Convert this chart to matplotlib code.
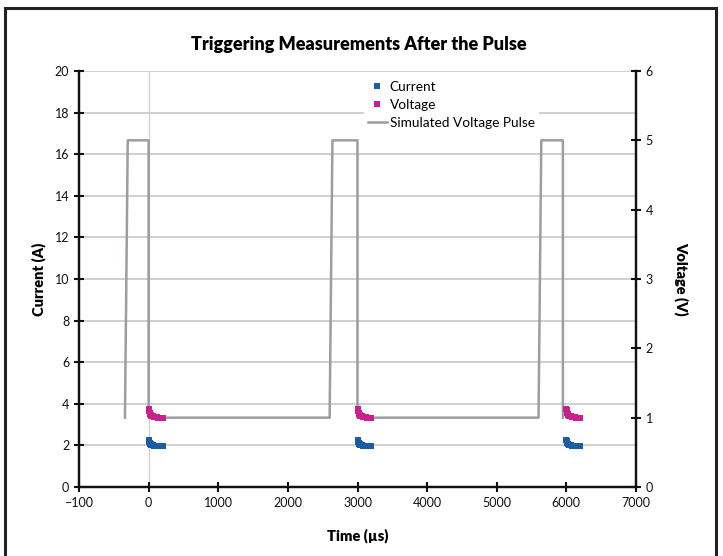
import numpy as np
import matplotlib
matplotlib.use("Agg")
import matplotlib.pyplot as plt
from matplotlib.patches import Rectangle
from matplotlib.lines import Line2D

plt.rcParams['font.family'] = ['Lato', 'DejaVu Sans']

# ---- data ----
burst_starts = [0, 3000, 6000]                       # us, where each measurement burst begins
burst_t = [0, 5, 10, 15, 20, 30, 40, 50, 60, 80, 100, 120, 140, 160, 180, 200]   # us after burst start
current_a = [2.25, 2.21, 2.17, 2.13, 2.09, 2.05, 2.03, 2.01, 2.00, 1.99, 1.98, 1.98, 1.97, 1.97, 1.97, 1.97]
voltage_v = [1.13, 1.11, 1.09, 1.07, 1.06, 1.04, 1.03, 1.025, 1.02, 1.015, 1.01, 1.005, 1.0, 1.0, 1.0, 1.0]

pulse_t = [-340, -300, 0, 0, 2600, 2640, 3000, 3000, 5600, 5640, 5950, 5950]
pulse_v = [1.0, 5.0, 5.0, 1.0, 1.0, 5.0, 5.0, 1.0, 1.0, 5.0, 5.0, 1.0]

x_ticks = [-1000, 0, 1000, 2000, 3000, 4000, 5000, 6000, 7000]
x_tick_labels = ['\u2212100', '0', '1000', '2000', '3000', '4000', '5000', '6000', '7000']

blue = '#1a5ca8'
magenta = '#cc1f8e'
grey = '#9a9ea3'

fig = plt.figure(figsize=(7.23, 5.56), dpi=100)
ax = fig.add_axes([79/723, 1-487/556, 557/723, 416/556])
ax2 = ax.twinx()

cur_t = []
cur_y = []
vol_t = []
vol_y = []
for s in burst_starts:
    for i in range(len(burst_t)):
        cur_t.append(s + burst_t[i])
        cur_y.append(current_a[i])
        vol_t.append(s + burst_t[i])
        vol_y.append(voltage_v[i])

ax.set_xlim(-1000, 7000)
ax.set_ylim(0, 20)
ax2.set_ylim(0, 6)

ax.set_yticks(range(0, 21, 2))
ax2.set_yticks(range(0, 7))
ax.set_xticks(x_ticks)
ax.set_xticklabels(x_tick_labels)

ax.grid(axis='y', color='#cbcbcb', lw=1.3)
ax.axvline(0, color='#cfcfcf', lw=0.9, zorder=0.5)
ax.set_axisbelow(True)

ax2.plot(pulse_t, pulse_v, color=grey, lw=1.8, zorder=2)
ax2.plot(vol_t, vol_y, 's', color=magenta, ms=4, mew=0, zorder=3)
ax.plot(cur_t, cur_y, 's', color=blue, ms=4, mew=0, zorder=3)

for a in (ax, ax2):
    a.spines['top'].set_visible(False)
    for sp in ('left', 'right', 'bottom'):
        a.spines[sp].set_linewidth(1.6)
        a.spines[sp].set_color('#111111')
    a.tick_params(direction='inout', length=7, width=1.5, labelsize=9, colors='#111111')
ax.tick_params(axis='x', pad=4)

ax.set_xlabel('Time (\u00b5s)', fontsize=10.5, fontweight='heavy', labelpad=14)
ax.set_ylabel('Current (A)', fontsize=10.5, fontweight='heavy', labelpad=6)
ax2.set_ylabel('Voltage (V)', fontsize=10.5, fontweight='heavy', rotation=270, labelpad=26)
fig.text(359/723, 1-45/556, 'Triggering Measurements After the Pulse',
         ha='center', va='center', fontsize=13, fontweight='heavy')

handles = [
    Line2D([], [], ls='none', marker='s', color=blue, ms=5, mew=0),
    Line2D([], [], ls='none', marker='s', color=magenta, ms=5, mew=0),
    Line2D([], [], color=grey, lw=1.8),
]
leg = ax2.legend(handles, ['Current', 'Voltage', 'Simulated Voltage Pulse'],
                 loc='upper left', bbox_to_anchor=((357-79)/557, (487-70)/416),
                 frameon=True, fancybox=False, edgecolor='none', framealpha=1,
                 fontsize=9.8, handlelength=1.4, handletextpad=0.2,
                 labelspacing=0.45, borderpad=0.3)
leg.set_zorder(5)

fig.patches.append(Rectangle((5/723, -0.1), 711/723, 1.1-8/556, transform=fig.transFigure,
                             fill=False, edgecolor='#222222', lw=2.2))

fig.savefig('out.png', dpi=100)
